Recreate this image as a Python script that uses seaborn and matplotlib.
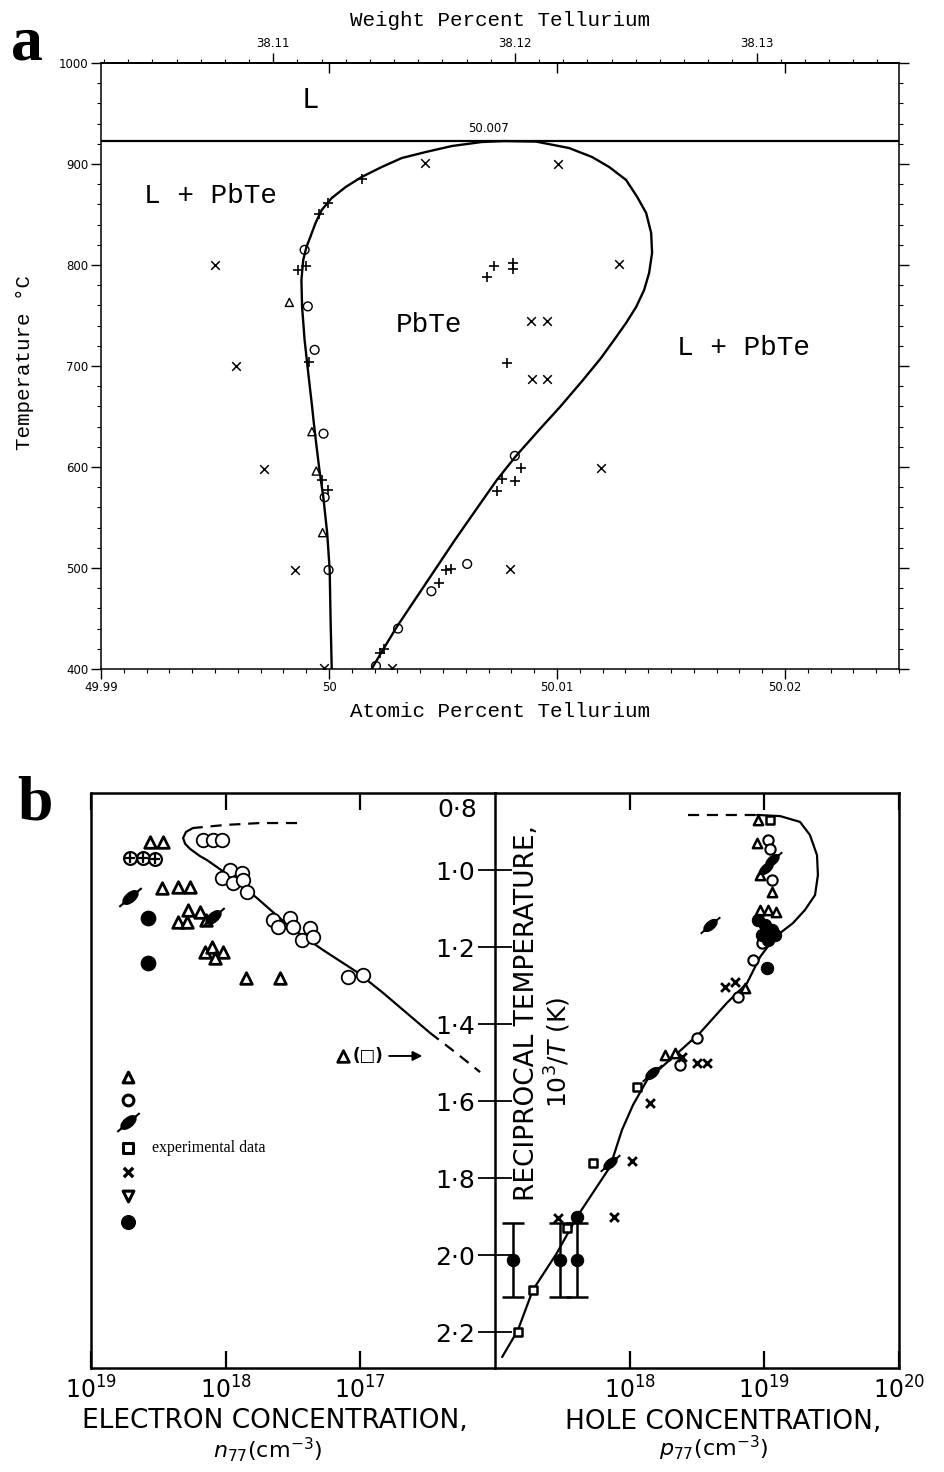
import numpy as np
import matplotlib
matplotlib.use("Agg")
import matplotlib.pyplot as plt
import matplotlib.path as mpath
import matplotlib.transforms as mtrans
import matplotlib.ticker as mticker
import seaborn as sns

# ---------------- panel a data (atomic % Te, temperature in C) ----------------
a_liquidus_T = 923
a_curve_at = [50.00012, 50.00007, 50.00003, 49.99992, 49.99975, 49.99958, 49.99942, 49.99932,
              49.99926, 49.99909, 49.99893, 49.99882, 49.99879, 49.99887, 49.99901, 49.99918,
              49.99941, 49.99968, 50.00012, 50.00073, 50.00143, 50.00231, 50.00319, 50.00425,
              50.00539, 50.00671, 50.00768, 50.00908,
              50.01053, 50.01154, 50.01229, 50.01303, 50.01352, 50.01391, 50.01413, 50.01417,
              50.01404, 50.01382, 50.01347, 50.01303, 50.01250, 50.01193, 50.01114, 50.01013,
              50.00921, 50.00820, 50.00736, 50.00653, 50.00552, 50.00464, 50.00376, 50.00297,
              50.00236, 50.00192, 50.00187]
a_curve_T = [400.0, 448.5, 498.0, 534.7, 570.3, 597.0, 626.7, 646.5, 659.4, 693.1, 725.7,
             758.4, 785.1, 805.0, 817.8, 827.7, 841.6, 854.5, 866.3, 877.2, 887.1, 897.0,
             905.9, 911.9, 917.8, 921.8, 922.7, 922.2,
             915.8, 906.9, 897.0, 884.2, 867.3, 851.5, 831.7, 811.9, 792.1, 775.2, 758.4,
             742.6, 725.7, 707.9, 686.1, 659.4, 636.6, 610.9, 587.1, 560.4, 527.7, 498.0,
             468.3, 441.6, 418.8, 402.0, 400.0]
a_cross_at = [49.99502, 49.99594, 49.99717, 49.99849, 50.00423, 50.01006, 50.01272, 50.00887,
              50.00957, 50.00891, 50.00957, 50.01192, 50.00792, 50.00276, 49.99976]
a_cross_T = [800, 700, 598, 498, 901, 900, 801, 745, 745, 687, 687, 599, 499, 401, 401]
a_plus_at = [50.00145, 49.99995, 49.99954, 49.99899, 49.99864, 49.99911, 50.00724, 50.00808,
             50.00808, 50.00695, 50.00780, 49.99969, 49.99995, 50.00840, 50.00815, 50.00760,
             50.00738, 50.00537, 50.00511, 50.00482, 50.00240, 50.00225]
a_plus_T = [885, 861, 850, 799, 795, 704, 799, 802, 796, 788, 703, 587, 577, 599, 586, 588,
            576, 499, 498, 485, 420, 416]
a_circ_at = [49.99893, 49.99907, 49.99937, 49.99976, 49.99981, 49.99998, 50.00815, 50.00606,
             50.00449, 50.00303, 50.00206]
a_circ_T = [815, 759, 716, 633, 570, 498, 611, 504, 477, 440, 403]
a_tri_at = [49.99826, 49.99925, 49.99944, 49.99972]
a_tri_T = [763, 635, 596, 535]
a_xticks = [49.99, 50.0, 50.01, 50.02]
a_xticklabels = ["49.99", "50", "50.01", "50.02"]
a_wt_ticks = [38.11, 38.12, 38.13]
a_wt_labels = ["38.11", "38.12", "38.13"]
a_yticks = [400, 500, 600, 700, 800, 900, 1000]

# ---------------- panel b data (carrier concentration cm^-3, 10^3/T) ----------------
bL_solid_n = [1.75e18, 1.97e18, 2.07e18, 2.00e18, 1.84e18, 1.55e18, 1.38e18, 9.29e17, 5.85e17,
              3.33e17, 1.89e17, 1.06e17, 6.79e16, 3.04e16]
bL_solid_y = [0.891, 0.901, 0.917, 0.932, 0.945, 0.964, 0.974, 1.016, 1.073, 1.148, 1.208,
              1.265, 1.319, 1.423]
bL_dash_top_n = [2.95e17, 5.56e17, 1.01e18, 1.75e18]
bL_dash_top_y = [0.878, 0.878, 0.883, 0.891]
bL_dash_bot_n = [3.04e16, 1.98e16, 1.29e16]
bL_dash_bot_y = [1.423, 1.473, 1.525]

bR_dash_p = [2.71e18, 8.83e18]
bR_dash_y = [0.857, 0.857]
bR_solid_p = [8.83e18, 1.31e19, 1.84e19, 2.18e19, 2.46e19, 2.50e19, 2.38e19, 2.00e19, 1.63e19,
              1.20e19, 9.29e18, 7.43e18, 5.28e18, 3.33e18, 2.10e18, 1.35e18, 1.06e18, 8.77e17,
              7.15e17, 4.06e17, 2.88e17, 1.91e17, 1.48e17, 1.13e17]
bR_solid_y = [0.857, 0.860, 0.875, 0.909, 0.961, 1.013, 1.065, 1.104, 1.138, 1.174, 1.226,
              1.294, 1.345, 1.423, 1.486, 1.545, 1.610, 1.675, 1.771, 1.901, 1.995, 2.091,
              2.195, 2.265]

bL_tri_n = [3.65e18, 2.92e18, 2.97e18, 2.26e18, 1.84e18, 2.26e18, 1.94e18, 1.90e18, 1.55e18,
            1.40e18, 1.42e18, 1.26e18, 1.05e18, 1.20e18, 7.06e17, 3.95e17, 1.35e17]
bL_tri_y = [0.927, 0.927, 1.047, 1.044, 1.044, 1.135, 1.135, 1.104, 1.109, 1.130, 1.213,
            1.200, 1.213, 1.229, 1.281, 1.281, 1.483]
bL_circ_n = [1.47e18, 1.24e18, 1.06e18, 9.29e17, 7.57e17, 1.06e18, 8.83e17, 7.44e17, 6.95e17,
             4.46e17, 3.33e17, 4.08e17, 3.16e17, 2.37e17, 2.71e17, 2.25e17, 1.24e17, 9.56e16]
bL_circ_y = [0.922, 0.922, 0.922, 1.000, 1.008, 1.021, 1.034, 1.026, 1.057, 1.130, 1.125,
             1.148, 1.148, 1.151, 1.182, 1.174, 1.278, 1.273]
bL_xcirc_n = [5.13e18, 4.11e18, 3.35e18]
bL_xcirc_y = [0.969, 0.969, 0.971]
bL_phi_n = [5.13e18, 1.24e18]
bL_phi_y = [1.070, 1.122]
bL_dot_n = [3.78e18, 3.78e18]
bL_dot_y = [1.125, 1.242]

bR_tri_p = [8.97e18, 8.83e18, 9.29e18, 1.14e19, 9.29e18, 1.06e19, 1.22e19, 7.18e18, 1.83e18, 2.17e18]
bR_tri_y = [0.870, 0.930, 1.013, 1.057, 1.104, 1.104, 1.109, 1.306, 1.481, 1.475]
bR_sq_p = [1.10e19, 1.13e18, 5.35e17, 3.43e17, 1.91e17, 1.48e17]
bR_sq_y = [0.870, 1.564, 1.761, 1.930, 2.091, 2.200]
bR_circ_p = [1.06e19, 1.10e19, 1.14e19, 9.6e18, 8.24e18, 6.37e18, 3.16e18, 2.37e18]
bR_circ_y = [0.922, 0.945, 1.026, 1.190, 1.234, 1.330, 1.436, 1.506]
bR_cross_p = [5.10e18, 6.05e18, 2.45e18, 3.16e18, 3.75e18, 1.42e18, 1.04e18, 7.66e17, 2.94e17]
bR_cross_y = [1.304, 1.291, 1.486, 1.501, 1.501, 1.605, 1.756, 1.901, 1.904]
bR_phi_p = [1.14e19, 1.03e19, 3.95e18, 1.47e18, 7.15e17]
bR_phi_y = [0.974, 0.995, 1.143, 1.527, 1.761]
bR_dot_p = [8.97e18, 1.01e19, 1.14e19, 9.6e18, 1.20e19, 1.06e19, 1.05e19, 4.06e17]
bR_dot_y = [1.130, 1.143, 1.156, 1.169, 1.169, 1.182, 1.255, 1.901]
bR_err_p = [1.36e17, 3.04e17, 4.06e17]
bR_err_y = [2.013, 2.013, 2.013]
bR_err_dy = [0.095, 0.095, 0.095]

b_key_n = 5.3e18
b_key_y = [1.538, 1.597, 1.655, 1.722, 1.784, 1.847, 1.914]
b_yticks = [1.0, 1.2, 1.4, 1.6, 1.8, 2.0, 2.2]
b_yticklabels = ["1·0", "1·2", "1·4", "1·6", "1·8", "2·0", "2·2"]
bL_xticks = [1e19, 1e18, 1e17]
bL_xticklabels = ["$10^{19}$", "$10^{18}$", "$10^{17}$"]
bR_xticks = [1e18, 1e19, 1e20]
bR_xticklabels = ["$10^{18}$", "$10^{19}$", "$10^{20}$"]

# ---------------- style ----------------
sns.set_theme(style="white")
plt.rcParams.update({
    "font.family": ["DejaVu Sans"],
    "axes.edgecolor": "black",
    "axes.labelcolor": "black",
    "text.color": "black",
    "xtick.color": "black",
    "ytick.color": "black",
    "axes.facecolor": "white",
    "figure.facecolor": "white",
})
MONO = ["Liberation Mono", "DejaVu Sans Mono"]
SERIF = ["Liberation Serif", "DejaVu Serif"]

W, H = 945, 1472
fig = plt.figure(figsize=(W / 100, H / 100), dpi=100)


def box(x0, y0, x1, y1):
    return [x0 / W, 1 - y1 / H, (x1 - x0) / W, (y1 - y0) / H]


def ftext(x, y, s, **kw):
    kw.setdefault("ha", "center")
    kw.setdefault("va", "center")
    fig.text(x / W, 1 - y / H, s, **kw)


# ================= panel a =================
axa = fig.add_axes(box(101, 63, 899, 669))
axa.set_xlim(49.99, 50.025)
axa.set_ylim(400, 1000)
for sp in axa.spines.values():
    sp.set_linewidth(1.1)

axa.axhline(a_liquidus_T, color="black", lw=1.6)
sns.lineplot(x=a_curve_at, y=a_curve_T, sort=False, estimator=None, color="black",
             lw=1.7, ax=axa)
sns.scatterplot(x=a_cross_at, y=a_cross_T, marker="x", s=38, color="black",
                linewidth=1.1, ax=axa)
sns.scatterplot(x=a_plus_at, y=a_plus_T, marker="+", s=48, color="black",
                linewidth=1.2, ax=axa)
sns.scatterplot(x=a_circ_at, y=a_circ_T, marker="o", s=40, facecolor="none",
                edgecolor="black", linewidth=1.0, ax=axa)
sns.scatterplot(x=a_tri_at, y=a_tri_T, marker="^", s=34, facecolor="none",
                edgecolor="black", linewidth=1.0, ax=axa)

axa.set_xticks(a_xticks)
axa.set_xticklabels(a_xticklabels)
axa.xaxis.set_minor_locator(mticker.MultipleLocator(0.001))
axa.set_yticks(a_yticks)
axa.yaxis.set_minor_locator(mticker.MultipleLocator(20))
axa.tick_params(axis="both", which="major", direction="out", length=7, width=1.0,
                labelsize=8.5, pad=2)
axa.tick_params(axis="both", which="minor", direction="out", length=3, width=0.8)
axa.tick_params(axis="x", which="both", bottom=True, top=False)
axa.tick_params(axis="y", which="both", left=True, right=True)
axa.set_xlabel("")
axa.set_ylabel("")


def at2wt(a):
    a = np.asarray(a, dtype=float) / 100.0
    return 100.0 * a * 127.6 / (a * 127.6 + (1 - a) * 207.2)


def wt2at(w):
    w = np.asarray(w, dtype=float) / 100.0
    return 100.0 * w * 207.2 / ((1 - w) * 127.6 + w * 207.2)


sec = axa.secondary_xaxis("top", functions=(at2wt, wt2at))
sec.set_xticks(a_wt_ticks)
sec.set_xticklabels(a_wt_labels)
sec.xaxis.set_minor_locator(mticker.MultipleLocator(0.001))
sec.tick_params(axis="x", which="major", direction="out", length=7, width=1.0,
                labelsize=8.5, pad=2)
sec.tick_params(axis="x", which="minor", direction="out", length=3, width=0.8)

sec2 = axa.secondary_xaxis("top")
sec2.set_xticks(a_xticks[1:])
sec2.tick_params(axis="x", which="major", direction="in", length=7, width=1.0,
                 labeltop=False)

axa.text(50.007, a_liquidus_T + 6, "50.007", ha="center", va="bottom", fontsize=8.5)
axa.text(49.99919, 963, "L", fontfamily=MONO, fontsize=21, ha="center", va="center")
axa.text(49.99481, 868, "L + PbTe", fontfamily=MONO, fontsize=20, ha="center", va="center")
axa.text(50.00438, 741, "PbTe", fontfamily=MONO, fontsize=20, ha="center", va="center")
axa.text(50.01816, 718, "L + PbTe", fontfamily=MONO, fontsize=20, ha="center", va="center")

ftext(500, 20, "Weight Percent Tellurium", fontfamily=MONO, fontsize=15)
ftext(500, 711, "Atomic Percent Tellurium", fontfamily=MONO, fontsize=15)
ftext(25, 362, "Temperature °C", fontfamily=MONO, fontsize=15, rotation=90)
ftext(27, 44, "a", fontfamily=SERIF, fontsize=46, fontweight="bold")

# ================= panel b =================
axL = fig.add_axes(box(91, 793, 495, 1368))
axR = fig.add_axes(box(495, 793, 899, 1368))
for ax in (axL, axR):
    for sp in ax.spines.values():
        sp.set_linewidth(1.8)
axL.set_xscale("log")
axR.set_xscale("log")
axL.set_xlim(1e19, 1e16)
axR.set_xlim(1e17, 1e20)
axL.set_ylim(2.2935, 0.8)
axR.set_ylim(2.2935, 0.8)
axL.spines["right"].set_visible(False)

# phi-like marker: slashed filled ellipse
ell = mpath.Path.unit_circle().transformed(mtrans.Affine2D().scale(1.0, 0.5).rotate_deg(40))
bar = mpath.Path([(-1.7, 0.0), (1.7, 0.0)], [mpath.Path.MOVETO, mpath.Path.LINETO]).transformed(
    mtrans.Affine2D().rotate_deg(40))
PHI = mpath.Path.make_compound_path(ell, bar)

LW = 1.6
# curves
sns.lineplot(x=bL_solid_n, y=bL_solid_y, sort=False, estimator=None, color="black", lw=LW, ax=axL)
sns.lineplot(x=bL_dash_top_n, y=bL_dash_top_y, sort=False, estimator=None, color="black",
             lw=LW, ls=(0, (5, 3.5)), ax=axL)
sns.lineplot(x=bL_dash_bot_n, y=bL_dash_bot_y, sort=False, estimator=None, color="black",
             lw=LW, ls=(0, (5, 3.5)), ax=axL)
sns.lineplot(x=bR_solid_p, y=bR_solid_y, sort=False, estimator=None, color="black", lw=LW, ax=axR)
sns.lineplot(x=bR_dash_p, y=bR_dash_y, sort=False, estimator=None, color="black",
             lw=LW, ls=(0, (5, 3.5)), ax=axR)

# left side markers
sns.scatterplot(x=bL_circ_n, y=bL_circ_y, marker="o", s=95, facecolor="white",
                edgecolor="black", linewidth=1.3, ax=axL, zorder=3)
sns.scatterplot(x=bL_tri_n, y=bL_tri_y, marker="^", s=70, facecolor="white",
                edgecolor="black", linewidth=2.0, ax=axL, zorder=3)
sns.scatterplot(x=bL_xcirc_n, y=bL_xcirc_y, marker="o", s=85, facecolor="white",
                edgecolor="black", linewidth=1.6, ax=axL, zorder=3)
sns.scatterplot(x=bL_xcirc_n, y=bL_xcirc_y, marker="+", s=45, color="black",
                linewidth=1.6, ax=axL, zorder=4)
sns.scatterplot(x=bL_phi_n, y=bL_phi_y, marker=PHI, s=260, color="black",
                edgecolor="black", linewidth=1.5, ax=axL, zorder=3)
sns.scatterplot(x=bL_dot_n, y=bL_dot_y, marker="o", s=110, color="black",
                edgecolor="black", ax=axL, zorder=3)

# key column
key_markers = ["^", "o", "phi", "s", "x", "v", "dot"]
for mk, yy in zip(key_markers, b_key_y):
    if mk in ("^", "o", "s", "v"):
        sns.scatterplot(x=[b_key_n], y=[yy], marker=mk, s=60, facecolor="white",
                        edgecolor="black", linewidth=2.2, ax=axL, zorder=3)
    elif mk == "x":
        sns.scatterplot(x=[b_key_n], y=[yy], marker="x", s=45, color="black",
                        linewidth=2.4, ax=axL, zorder=3)
    elif mk == "phi":
        sns.scatterplot(x=[b_key_n], y=[yy], marker=PHI, s=260, color="black",
                        edgecolor="black", linewidth=1.5, ax=axL, zorder=3)
    else:
        sns.scatterplot(x=[b_key_n], y=[yy], marker="o", s=100, color="black",
                        edgecolor="black", ax=axL, zorder=3)
axL.text(3.5e18, b_key_y[3], "experimental data", fontfamily=SERIF, fontsize=11.5,
         ha="left", va="center")

# "triangle (square) ->" annotation
axL.text(8.8e16, 1.483, "(□)", fontsize=12, fontweight="bold", ha="center", va="center")
axL.annotate("", xy=(3.3e16, 1.483), xytext=(6.4e16, 1.483),
             arrowprops=dict(arrowstyle="-|>", color="black", lw=1.4, mutation_scale=14))

# right side markers
sns.scatterplot(x=bR_circ_p, y=bR_circ_y, marker="o", s=55, facecolor="white",
                edgecolor="black", linewidth=1.5, ax=axR, zorder=3)
sns.scatterplot(x=bR_tri_p, y=bR_tri_y, marker="^", s=45, facecolor="white",
                edgecolor="black", linewidth=1.8, ax=axR, zorder=3)
sns.scatterplot(x=bR_sq_p, y=bR_sq_y, marker="s", s=38, facecolor="white",
                edgecolor="black", linewidth=1.8, ax=axR, zorder=3)
sns.scatterplot(x=bR_cross_p, y=bR_cross_y, marker="x", s=40, color="black",
                linewidth=2.0, ax=axR, zorder=3)
sns.scatterplot(x=bR_phi_p, y=bR_phi_y, marker=PHI, s=200, color="black",
                edgecolor="black", linewidth=1.4, ax=axR, zorder=3)
sns.scatterplot(x=bR_dot_p, y=bR_dot_y, marker="o", s=80, color="black",
                edgecolor="black", ax=axR, zorder=3)
axR.errorbar(bR_err_p, bR_err_y, yerr=bR_err_dy, fmt="none", ecolor="black",
             elinewidth=1.8, capsize=8, capthick=1.8, zorder=2)
sns.scatterplot(x=bR_err_p, y=bR_err_y, marker="o", s=80, color="black",
                edgecolor="black", ax=axR, zorder=3)

# ticks
axL.xaxis.set_minor_locator(mticker.NullLocator())
axR.xaxis.set_minor_locator(mticker.NullLocator())
axL.set_xticks(bL_xticks)
axL.set_xticklabels(bL_xticklabels)
axR.set_xticks(bR_xticks)
axR.set_xticklabels(bR_xticklabels)
for ax in (axL, axR):
    ax.tick_params(axis="x", which="major", direction="in", length=12, width=1.6,
                   top=True, bottom=True, labelsize=17, pad=6)
    ax.set_xlabel("")
    ax.set_ylabel("")
axL.set_yticks([])
axR.set_yticks(b_yticks)
axR.set_yticklabels(b_yticklabels)
axR.tick_params(axis="y", which="major", direction="inout", length=25, width=1.3,
                left=True, right=False, labelsize=18, pad=2)
blend = mtrans.blended_transform_factory(axR.transAxes, axR.transData)
axR.text(-0.0435, 0.845, "0·8", transform=blend, fontsize=18, ha="right", va="center")

axR.text(0.079, 1.371, "RECIPROCAL TEMPERATURE,", transform=blend,
         rotation=90, fontsize=19, ha="center", va="center")
axR.text(0.155, 1.473, "$10^3/T$ (K)", transform=blend,
         rotation=90, fontsize=18, ha="center", va="center")

ftext(275, 1421, "ELECTRON CONCENTRATION,", fontsize=19)
ftext(268, 1450, "$n_{77}$(cm$^{-3}$)", fontsize=16)
ftext(723, 1422, "HOLE CONCENTRATION,", fontsize=19)
ftext(714, 1448, "$p_{77}$(cm$^{-3}$)", fontsize=16)
ftext(35, 805, "b", fontfamily=SERIF, fontsize=46, fontweight="bold")

fig.savefig("out.png", dpi=100)
